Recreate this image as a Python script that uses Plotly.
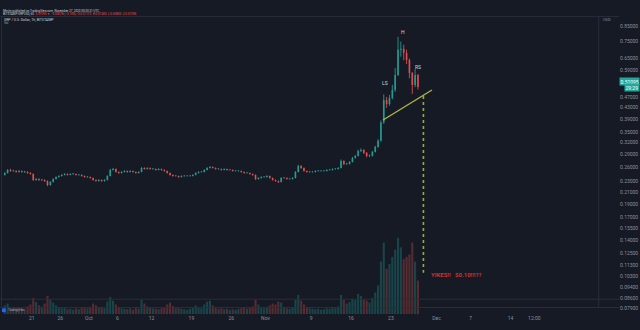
import math
import pandas as pd
import plotly.graph_objects as go

# XRP/USD, 12h candles from 16 Sep 2020
start = pd.Timestamp("2020-09-16 00:00")
first_open = 0.2430

closes = [
    0.2471, 0.2535, 0.2513, 0.2513, 0.2492, 0.2513, 0.2492, 0.2492, 0.2471, 0.2450,
    0.2329, 0.2349, 0.2329, 0.2329, 0.2309, 0.2232, 0.2290, 0.2349, 0.2389, 0.2409,
    0.2430, 0.2450, 0.2430, 0.2450, 0.2450, 0.2430, 0.2430, 0.2409, 0.2389, 0.2389,
    0.2369, 0.2329, 0.2309, 0.2329, 0.2309, 0.2329, 0.2409, 0.2535, 0.2556, 0.2492,
    0.2471, 0.2492, 0.2513, 0.2492, 0.2513, 0.2492, 0.2471, 0.2492, 0.2578, 0.2556,
    0.2578, 0.2556, 0.2556, 0.2535, 0.2556, 0.2535, 0.2513, 0.2471, 0.2430, 0.2409,
    0.2409, 0.2389, 0.2409, 0.2409, 0.2409, 0.2409, 0.2430, 0.2471, 0.2492, 0.2492,
    0.2535, 0.2578, 0.2600, 0.2578, 0.2556, 0.2556, 0.2535, 0.2556, 0.2535, 0.2535,
    0.2513, 0.2513, 0.2513, 0.2492, 0.2471, 0.2471, 0.2450, 0.2430, 0.2349, 0.2369,
    0.2389, 0.2389, 0.2409, 0.2369, 0.2329, 0.2309, 0.2290, 0.2369, 0.2369, 0.2349,
    0.2349, 0.2369, 0.2492, 0.2622, 0.2578, 0.2513, 0.2492, 0.2492, 0.2492, 0.2513,
    0.2513, 0.2513, 0.2513, 0.2535, 0.2535, 0.2556, 0.2556, 0.2578, 0.2735, 0.2667,
    0.2667, 0.2712, 0.2805, 0.2853, 0.2978, 0.3003, 0.2928, 0.2853, 0.2853, 0.2953,
    0.3080, 0.3241, 0.3787, 0.4575, 0.4425, 0.4657, 0.4981, 0.5655, 0.7000, 0.7050,
    0.6810, 0.6420, 0.5750, 0.5200, 0.5655, 0.51095,
]

highs = [
    0.2490, 0.2552, 0.2560, 0.2538, 0.2530, 0.2531, 0.2525, 0.2515, 0.2508, 0.2486,
    0.2462, 0.2368, 0.2362, 0.2350, 0.2343, 0.2320, 0.2305, 0.2362, 0.2402, 0.2425,
    0.2446, 0.2468, 0.2462, 0.2465, 0.2470, 0.2461, 0.2447, 0.2442, 0.2421, 0.2404,
    0.2398, 0.2377, 0.2341, 0.2345, 0.2340, 0.2344, 0.2424, 0.2560, 0.2580, 0.2568,
    0.2505, 0.2510, 0.2530, 0.2524, 0.2529, 0.2522, 0.2503, 0.2509, 0.2596, 0.2592,
    0.2594, 0.2590, 0.2574, 0.2567, 0.2571, 0.2566, 0.2548, 0.2522, 0.2480, 0.2442,
    0.2426, 0.2418, 0.2423, 0.2424, 0.2422, 0.2425, 0.2444, 0.2486, 0.2508, 0.2510,
    0.2550, 0.2596, 0.2622, 0.2612, 0.2590, 0.2571, 0.2566, 0.2570, 0.2565, 0.2551,
    0.2546, 0.2529, 0.2527, 0.2524, 0.2503, 0.2487, 0.2482, 0.2461, 0.2440, 0.2384,
    0.2403, 0.2404, 0.2424, 0.2418, 0.2378, 0.2340, 0.2318, 0.2384, 0.2386, 0.2380,
    0.2364, 0.2385, 0.2510, 0.2650, 0.2640, 0.2590, 0.2525, 0.2508, 0.2507, 0.2528,
    0.2530, 0.2527, 0.2529, 0.2550, 0.2552, 0.2570, 0.2574, 0.2596, 0.2768, 0.2750,
    0.2692, 0.2730, 0.2830, 0.2880, 0.3010, 0.3045, 0.3020, 0.2950, 0.2890, 0.2980,
    0.3110, 0.3290, 0.3850, 0.4800, 0.4700, 0.4780, 0.5200, 0.6000, 0.7800, 0.7500,
    0.7300, 0.7000, 0.6500, 0.5800, 0.5950, 0.5700,
]

lows = [
    0.2418, 0.2460, 0.2498, 0.2494, 0.2478, 0.2480, 0.2476, 0.2470, 0.2455, 0.2436,
    0.2310, 0.2315, 0.2312, 0.2306, 0.2290, 0.2210, 0.2220, 0.2281, 0.2340, 0.2378,
    0.2398, 0.2421, 0.2418, 0.2422, 0.2433, 0.2419, 0.2414, 0.2396, 0.2375, 0.2372,
    0.2355, 0.2316, 0.2294, 0.2298, 0.2293, 0.2297, 0.2320, 0.2400, 0.2522, 0.2480,
    0.2455, 0.2460, 0.2482, 0.2478, 0.2481, 0.2479, 0.2458, 0.2460, 0.2485, 0.2541,
    0.2545, 0.2542, 0.2538, 0.2520, 0.2524, 0.2521, 0.2499, 0.2458, 0.2415, 0.2394,
    0.2395, 0.2374, 0.2378, 0.2393, 0.2396, 0.2394, 0.2400, 0.2422, 0.2461, 0.2478,
    0.2484, 0.2526, 0.2566, 0.2565, 0.2542, 0.2540, 0.2522, 0.2524, 0.2521, 0.2520,
    0.2500, 0.2498, 0.2497, 0.2478, 0.2457, 0.2456, 0.2436, 0.2414, 0.2330, 0.2335,
    0.2356, 0.2374, 0.2378, 0.2355, 0.2315, 0.2294, 0.2270, 0.2281, 0.2354, 0.2335,
    0.2334, 0.2338, 0.2360, 0.2484, 0.2560, 0.2498, 0.2477, 0.2476, 0.2478, 0.2481,
    0.2499, 0.2497, 0.2500, 0.2502, 0.2520, 0.2523, 0.2540, 0.2544, 0.2568, 0.2640,
    0.2645, 0.2655, 0.2700, 0.2790, 0.2840, 0.2950, 0.2900, 0.2820, 0.2825, 0.2840,
    0.2940, 0.3060, 0.3220, 0.3740, 0.4280, 0.4360, 0.4600, 0.4900, 0.5600, 0.6600,
    0.6400, 0.6200, 0.5500, 0.4820, 0.5100, 0.5000,
]

# volume per candle, millions of XRP
volumes = [
    18, 22, 15, 12, 14, 11, 13, 10, 16, 20,
    34, 25, 18, 15, 22, 38, 30, 24, 18, 14,
    12, 13, 10, 11, 9, 12, 10, 14, 15, 12,
    14, 22, 18, 13, 15, 12, 26, 36, 28, 20,
    15, 12, 11, 10, 12, 9, 13, 11, 30, 22,
    16, 13, 12, 11, 10, 12, 14, 20, 24, 17,
    12, 14, 11, 10, 9, 11, 13, 18, 14, 12,
    20, 26, 28, 18, 14, 11, 12, 10, 11, 9,
    10, 9, 11, 12, 14, 11, 13, 16, 30, 20,
    14, 12, 13, 18, 22, 20, 26, 24, 15, 12,
    11, 14, 30, 40, 28, 20, 15, 12, 11, 10,
    11, 9, 10, 12, 11, 13, 12, 16, 40, 30,
    22, 25, 32, 30, 42, 38, 30, 28, 24, 34,
    45, 60, 110, 150, 95, 105, 120, 135, 160, 140,
    115, 120, 125, 150, 110, 70,
]

price_ticks = [0.85, 0.75, 0.65, 0.59, 0.47, 0.43, 0.39, 0.35, 0.32, 0.29, 0.26,
               0.23, 0.21, 0.19, 0.17, 0.155, 0.14, 0.125, 0.113, 0.103, 0.094,
               0.086, 0.079]
date_ticks = ["2020-09-21", "2020-09-26", "2020-10-01", "2020-10-06", "2020-10-12",
              "2020-10-19", "2020-10-26", "2020-11-01", "2020-11-09", "2020-11-16",
              "2020-11-23", "2020-12-01", "2020-12-07", "2020-12-14", "2020-12-18 04:00"]
date_labels = ["21", "26", "Oct", "6", "12", "19", "26", "Nov", "9", "16", "23",
               "Dec", "7", "14", "12:00"]

# head-and-shoulders drawing
neck_x = ["2020-11-21 15:00", "2020-11-30 05:00"]
neck_y = [0.3866, 0.498]
target_x = "2020-11-28 17:00"
target_top = 0.4738
target_price = 0.1063
last_price = 0.51095

BG = "#151a25"
GREEN = "#26a69a"
RED = "#ef5350"
GREEN_C = "rgba(38,166,154,0.8)"
RED_C = "rgba(239,83,80,0.8)"
TXT = "#8d909b"
LINE = "#2a2e39"
W, H = 640, 330
STEP_MS = 12 * 3600 * 1000

times = pd.date_range(start, periods=len(closes), freq="12h") + pd.Timedelta(hours=6)
opens = [first_open] + closes[:-1]
up = [c >= o for o, c in zip(opens, closes)]

fig = go.Figure()

# volume histogram on its own hidden axis
fig.add_trace(go.Bar(
    x=times, y=volumes, yaxis="y2", width=STEP_MS * 0.75, marker_line_width=0,
    marker_color=["rgba(38,166,154,0.3)" if u else "rgba(239,83,80,0.3)" for u in up],
    hoverinfo="skip",
))

# candles: wicks as line segments, bodies as based bars
for is_up, color in [(True, GREEN_C), (False, RED_C)]:
    wx, wy = [], []
    bx, bbase, bsize = [], [], []
    for t, o, h, lo, c, u in zip(times, opens, highs, lows, closes, up):
        if u != is_up:
            continue
        wx += [t, t, None]
        wy += [lo, h, None]
        bot, top = min(o, c), max(o, c)
        bx.append(t)
        bbase.append(bot)
        bsize.append(max(top - bot, bot * 0.004))
    fig.add_trace(go.Scatter(x=wx, y=wy, mode="lines", line=dict(color=color, width=1),
                             hoverinfo="skip"))
    fig.add_trace(go.Bar(x=bx, base=bbase, y=bsize, width=STEP_MS * 0.6,
                         marker_color=color, marker_line_width=0, hoverinfo="skip"))

fig.add_trace(go.Scatter(
    x=neck_x, y=neck_y, mode="lines",
    line=dict(color="#b3b440", width=1.4), hoverinfo="skip",
))
fig.add_trace(go.Scatter(
    x=[target_x, target_x], y=[target_top, target_price], mode="lines",
    line=dict(color="#9aab3a", width=1.6, dash="dot"), hoverinfo="skip",
))

annotations = []
lab = dict(color="#d1d4dc", size=5, family="Roboto")
for txt, x, y in [("LS", "2020-11-22 00:00", 0.53), ("H", "2020-11-25 02:00", 0.81),
                  ("RS", "2020-11-27 16:00", 0.605)]:
    annotations.append(dict(x=x, y=math.log10(y), xref="x", yref="y", text=txt,
                            showarrow=False, font=lab))
annotations.append(dict(x="2020-11-29 16:00", y=math.log10(0.1052), xref="x", yref="y",
                        text="<b>YIKES!!   $0.10!!!??</b>", showarrow=False,
                        xanchor="left", font=dict(color="#d32f2f", size=6, family="Roboto")))
# last price / countdown tags
annotations.append(dict(x=1, y=math.log10(last_price), xref="paper", yref="y", yshift=5,
                        xanchor="left", text="0.51095", showarrow=False,
                        bgcolor=GREEN, borderpad=0.5,
                        font=dict(color="#ffffff", size=5, family="Roboto")))
annotations.append(dict(x=1, y=math.log10(last_price), xref="paper", yref="y", yshift=-1,
                        xanchor="left", xshift=5, text="29:29", showarrow=False,
                        bgcolor=GREEN, borderpad=0.5,
                        font=dict(color="#ffffff", size=5, family="Roboto")))


def note(x, y, text, size, color, anchor="left"):
    return dict(x=x / W, y=1 - y / H, xref="paper", yref="paper", xanchor=anchor,
                yanchor="middle", text=text, showarrow=False, borderpad=0,
                font=dict(color=color, size=size, family="Roboto"))


annotations += [
    note(628, 11, "USD", 4, TXT, "center"),
    note(2, 2.3, "Mmjtn published on TradingView.com, November 27, 2020 00:30:31 UTC",
         3, "#d1d4dc"),
    note(2, 5.6, "BITSTAMP:XRPUSD, 60  <span style='color:#ef5350'>0.51095 ▼ −0.00078 "
         "(−0.15%)  O:0.51173  H:0.51500  L:0.50830  C:0.51095</span>", 3, "#d1d4dc"),
    note(3, 11.5, "XRP / U.S. Dollar, 1h, BITSTAMP", 3.5, "#d1d4dc"),
    note(3, 15.2, "Vol", 3, "#a3a6af"),
    note(7, 326, "TradingView", 3, "#a3a6af"),
]


def px(x):
    return x / W


def py(y):
    return 1 - y / H


frame = [
    (0, 8, 640, 8), (0, 314, 640, 314), (0, 323, 640, 323),
    (619, 8, 619, 323), (1.5, 8, 1.5, 323),
]
shapes = [dict(type="line", xref="paper", yref="paper", x0=px(x0), x1=px(x1),
               y0=py(y0), y1=py(y1), line=dict(color=LINE, width=1))
          for x0, y0, x1, y1 in frame]
shapes.append(dict(type="rect", xref="paper", yref="paper", x0=px(2), x1=px(6),
                   y0=py(328), y1=py(324), fillcolor="#2962ff", line=dict(width=0)))

# plot area spans x 0..619 and y 9..314 in page pixels
fig.update_layout(
    width=W, height=H, margin=dict(l=0, r=21, t=9, b=16),
    paper_bgcolor=BG, plot_bgcolor=BG, showlegend=False,
    barmode="overlay",
    xaxis=dict(
        type="date", range=["2020-09-15 10:00", "2021-01-02 00:30"],
        showgrid=False, zeroline=False,
        tickvals=date_ticks, ticktext=date_labels, ticks="", ticklen=0,
        tickfont=dict(color=TXT, size=5, family="Roboto"), showline=False,
    ),
    yaxis=dict(
        type="log", range=[math.log10(0.07509), math.log10(0.9872)], side="right",
        tickvals=price_ticks, ticktext=[f"{v:.5f}" for v in price_ticks],
        tickfont=dict(color=TXT, size=5, family="Roboto"), showgrid=False,
        zeroline=False, showline=False, ticks="",
    ),
    yaxis2=dict(range=[0, 640], overlaying="y", visible=False, showgrid=False),
    annotations=annotations, shapes=shapes,
)

fig.write_html("out.html")
